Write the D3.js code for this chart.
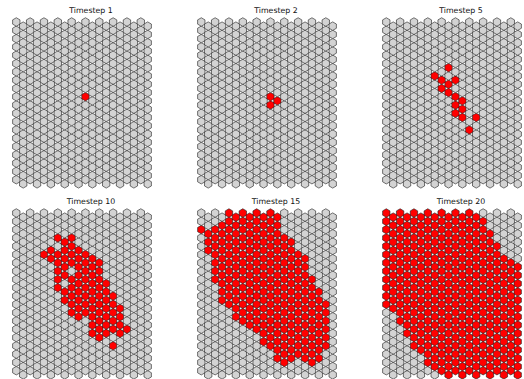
<!DOCTYPE html>
<html>
<head>
<meta charset="utf-8">
<script src="https://cdn.jsdelivr.net/npm/d3@7"></script>
<style>
  body { margin: 0; background: #fff; }
  .title { font-family: "DejaVu Sans", sans-serif; font-size: 7.8px; fill: #111; }
</style>
</head>
<body>
<div id="chart"></div>
<script>
const nCols = 20, nRows = 20;
const timesteps = [1, 2, 5, 10, 15, 20];

// burning cells per timestep as [column, firstRow, lastRow], rows counted from the top
const burning1 = [[10, 9, 9]];
const burning2 = [[10, 9, 10], [11, 9, 9]];
const burning5 = [
  [7, 6, 6], [8, 7, 8], [9, 5, 5], [9, 7, 8], [10, 7, 7], [10, 9, 11],
  [11, 9, 11], [12, 13, 13], [13, 11, 11]
];
const burning10 = [
  [4, 5, 5], [5, 4, 5], [6, 3, 3], [6, 5, 9], [7, 3, 7], [7, 9, 10],
  [8, 3, 6], [8, 8, 12], [9, 4, 12], [10, 5, 12], [11, 5, 14],
  [12, 6, 15], [13, 8, 14], [14, 10, 14], [14, 16, 16],
  [15, 11, 14], [16, 14, 14]
];
const burning15 = [
  [0, 2, 2], [1, 2, 4], [2, 2, 8], [3, 1, 10], [4, 0, 11], [5, 0, 12],
  [6, 0, 13], [7, 0, 13], [8, 0, 14], [9, 0, 15], [10, 0, 16], [11, 0, 17],
  [12, 3, 18], [13, 3, 17], [14, 5, 17], [15, 5, 17], [16, 8, 18],
  [17, 9, 17], [18, 11, 16]
];
const burning20 = [
  [0, 0, 11], [1, 0, 11], [2, 0, 13], [3, 0, 14], [4, 0, 16], [5, 0, 16],
  [6, 0, 18], [7, 0, 18], [8, 0, 19], [9, 0, 19], [10, 0, 19], [11, 0, 19],
  [12, 0, 19], [13, 0, 19], [14, 1, 19], [15, 2, 19], [16, 4, 19],
  [17, 5, 19], [18, 6, 19], [19, 6, 19]
];
const burningByStep = [burning1, burning2, burning5, burning10, burning15, burning20];

const width = 524, height = 379;
const panelW = 140, panelH = 170;
const panelLeft = [12, 197, 382], panelTop = [17, 208];
const hexR = 4.25;

const svg = d3.select('#chart').append('svg')
  .attr('width', width)
  .attr('height', height);

// grid scales inside a panel (odd columns sit half a row lower)
const x = d3.scaleLinear().domain([0, nCols - 1]).range([4.3, panelW - 4.3]);
const y = d3.scaleLinear().domain([0, nRows - 0.5]).range([5, 5 + 19.5 * 8.3]);

const hexPath = (() => {
  const p = d3.path();
  for (let k = 0; k < 6; k++) {
    const a = (Math.PI / 3) * k - Math.PI / 2;
    const px = hexR * Math.cos(a), py = hexR * Math.sin(a);
    if (k === 0) p.moveTo(px, py); else p.lineTo(px, py);
  }
  p.closePath();
  return p.toString();
})();

const cells = [];
for (let c = 0; c < nCols; c++) {
  for (let r = nRows - 1; r >= 0; r--) cells.push({ c, r });
}

timesteps.forEach((step, i) => {
  const left = panelLeft[i % 3], top = panelTop[Math.floor(i / 3)];
  const burning = new Set();
  burningByStep[i].forEach(([c, r0, r1]) => {
    for (let r = r0; r <= r1; r++) burning.add(c + ',' + r);
  });

  const g = svg.append('g').attr('transform', `translate(${left},${top})`);

  g.selectAll('path.cell')
    .data(cells)
    .enter().append('path')
    .attr('class', 'cell')
    .attr('d', hexPath)
    .attr('transform', d => `translate(${x(d.c)},${y(d.r + (d.c % 2 === 1 ? 0.5 : 0))})`)
    .style('fill', d => burning.has(d.c + ',' + d.r) ? '#ff0000' : '#d3d3d3')
    .style('stroke', '#1a1a1a')
    .style('stroke-width', 0.6);

  svg.append('text')
    .attr('class', 'title')
    .attr('x', left + 79)
    .attr('y', top - 4)
    .attr('text-anchor', 'middle')
    .text(`Timestep ${step}`);
});
</script>
</body>
</html>
